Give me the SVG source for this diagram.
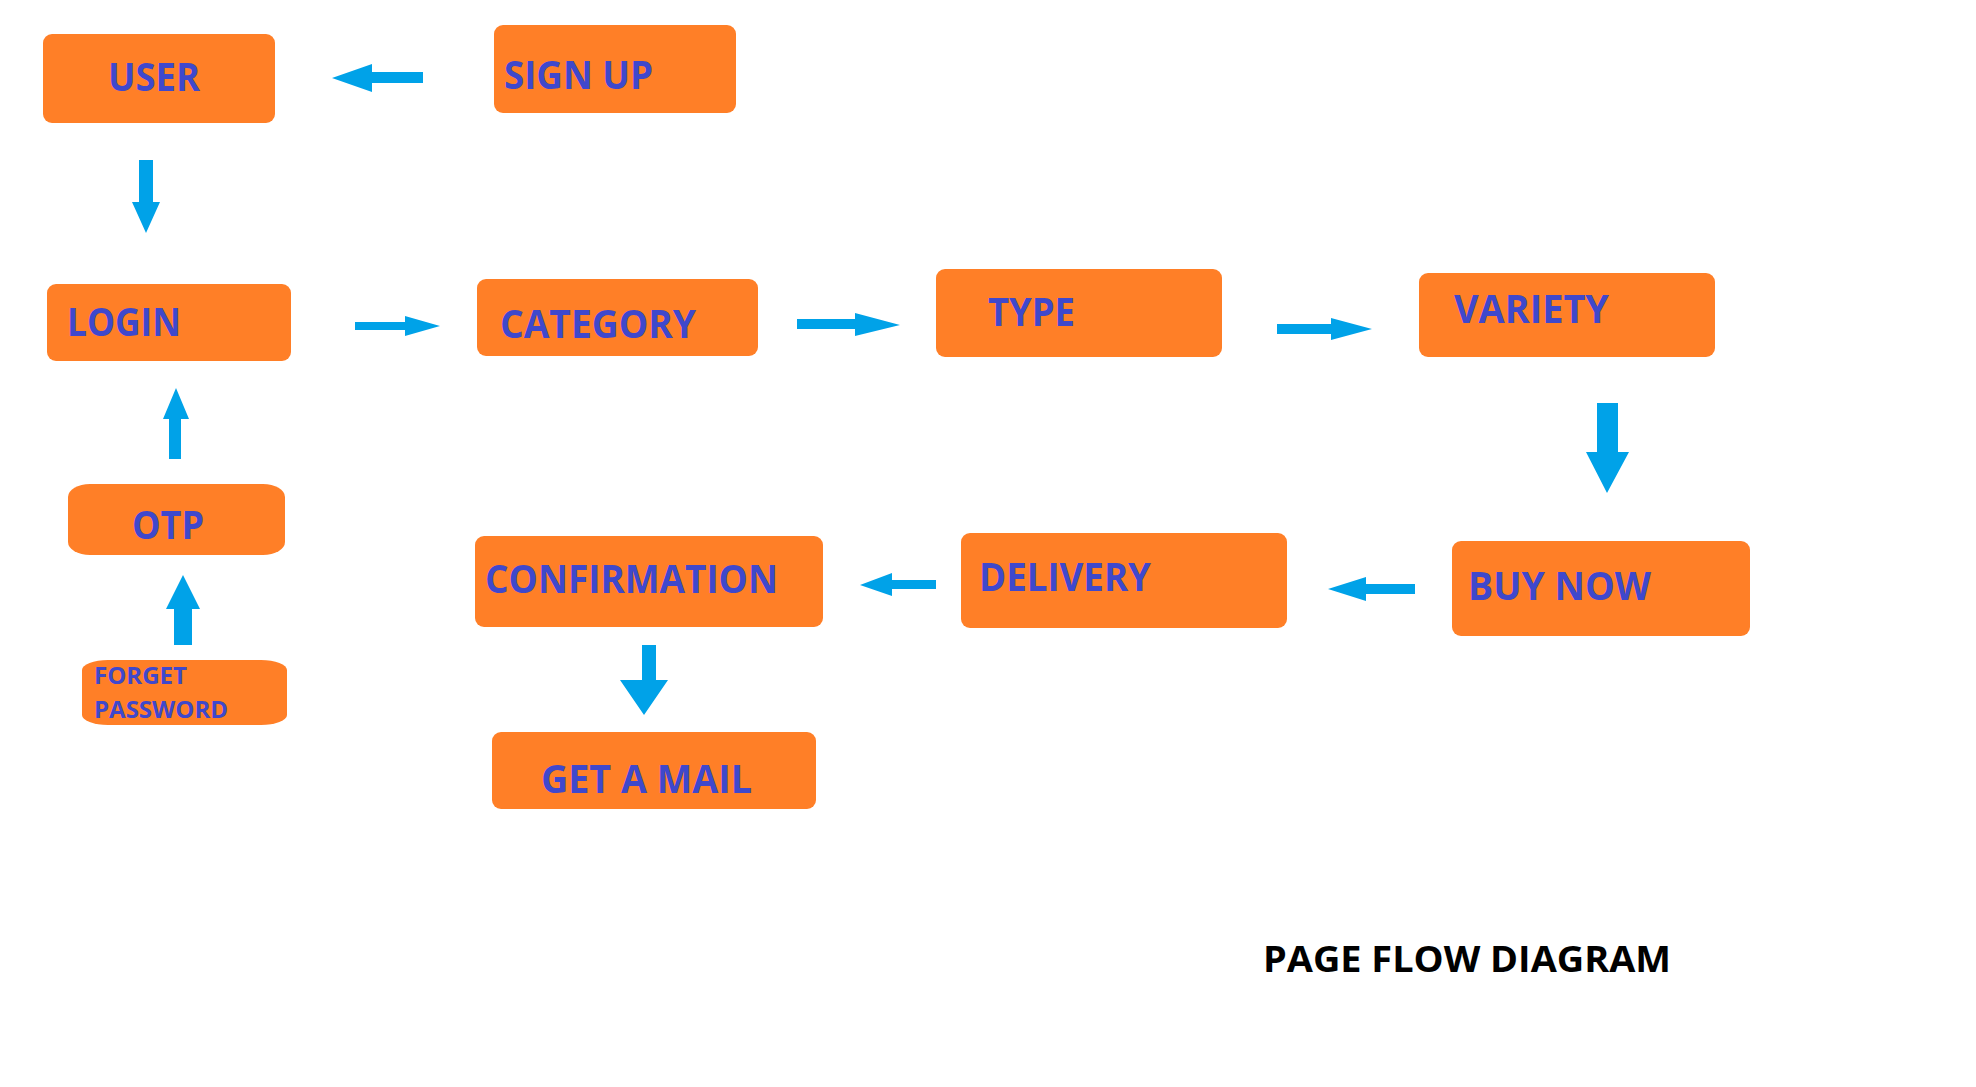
<svg xmlns="http://www.w3.org/2000/svg" width="1976" height="1087" viewBox="0 0 1976 1087">
<style>
.box{fill:#FF7F27}
.lbl{font-family:"Open Sans","Liberation Sans",sans-serif;font-weight:bold;font-size:39px;fill:#3F48CC}
.sm{font-size:24px}
.arr{fill:#00A2E8}
.title{font-family:"Open Sans","Liberation Sans",sans-serif;font-weight:bold;font-size:36px;fill:#000}
</style>
<rect width="1976" height="1087" fill="#fff"/>
<g id="user"><rect class="box" x="43" y="34" width="232" height="89" rx="9"/><text class="lbl" x="108" y="91" textLength="92" lengthAdjust="spacingAndGlyphs">USER</text></g>
<g id="signup"><rect class="box" x="494" y="25" width="242" height="88" rx="9"/><text class="lbl" x="504" y="89" textLength="149" lengthAdjust="spacingAndGlyphs">SIGN UP</text></g>
<g id="login"><rect class="box" x="47" y="284" width="244" height="77" rx="9"/><text class="lbl" x="67" y="336" textLength="114" lengthAdjust="spacingAndGlyphs">LOGIN</text></g>
<g id="category"><rect class="box" x="477" y="279" width="281" height="77" rx="9"/><text class="lbl" x="500" y="338" textLength="196" lengthAdjust="spacingAndGlyphs">CATEGORY</text></g>
<g id="type"><rect class="box" x="936" y="269" width="286" height="88" rx="9"/><text class="lbl" x="988" y="326" textLength="87" lengthAdjust="spacingAndGlyphs">TYPE</text></g>
<g id="variety"><rect class="box" x="1419" y="273" width="296" height="84" rx="9"/><text class="lbl" x="1454" y="323" textLength="155" lengthAdjust="spacingAndGlyphs">VARIETY</text></g>
<g id="buynow"><rect class="box" x="1452" y="541" width="298" height="95" rx="9"/><text class="lbl" x="1468" y="600" textLength="183" lengthAdjust="spacingAndGlyphs">BUY NOW</text></g>
<g id="delivery"><rect class="box" x="961" y="533" width="326" height="95" rx="9"/><text class="lbl" x="979" y="591" textLength="172" lengthAdjust="spacingAndGlyphs">DELIVERY</text></g>
<g id="confirmation"><rect class="box" x="475" y="536" width="348" height="91" rx="9"/><text class="lbl" x="485" y="593" textLength="293" lengthAdjust="spacingAndGlyphs">CONFIRMATION</text></g>
<g id="getamail"><rect class="box" x="492" y="732" width="324" height="77" rx="9"/><text class="lbl" x="541" y="793" textLength="211" lengthAdjust="spacingAndGlyphs">GET A MAIL</text></g>
<g id="otp"><rect class="box" x="68" y="484" width="217" height="71" rx="22" ry="13"/><text class="lbl" x="132" y="539" textLength="72" lengthAdjust="spacingAndGlyphs">OTP</text></g>
<g id="forgetpassword"><rect class="box" x="82" y="660" width="205" height="65" rx="26" ry="10"/><text class="lbl sm" x="94" y="684" textLength="93" lengthAdjust="spacingAndGlyphs">FORGET</text><text class="lbl sm" x="94" y="718" textLength="134" lengthAdjust="spacingAndGlyphs">PASSWORD</text></g>
<g id="connectors">
<polygon class="arr" points="423,72 372,72 372,64 332,78 372,92 372,83 423,83"/>
<polygon class="arr" points="139,160 153,160 153,202 160,202 146,233 132,202 139,202"/>
<polygon class="arr" points="355,322 405,322 405,316 440,326 405,336 405,330 355,330"/>
<polygon class="arr" points="797,319 855,319 855,313 900,325 855,336 855,329 797,329"/>
<polygon class="arr" points="1277,324 1331,324 1331,318 1372,329 1331,340 1331,334 1277,334"/>
<polygon class="arr" points="1597,403 1618,403 1618,452 1629,452 1607,493 1586,452 1597,452"/>
<polygon class="arr" points="1415,584 1366,584 1366,577 1328,589 1366,601 1366,594 1415,594"/>
<polygon class="arr" points="936,580 892,580 892,573 860,585 892,596 892,589 936,589"/>
<polygon class="arr" points="642,645 656,645 656,680 668,680 644,715 620,680 642,680"/>
<polygon class="arr" points="169,459 169,419 163,419 176,388 189,419 181,419 181,459"/>
<polygon class="arr" points="174,645 174,609 166,609 183,575 200,609 192,609 192,645"/>
</g>
<text id="title" class="title" x="1263" y="972" textLength="408" lengthAdjust="spacingAndGlyphs">PAGE FLOW DIAGRAM</text>
</svg>
